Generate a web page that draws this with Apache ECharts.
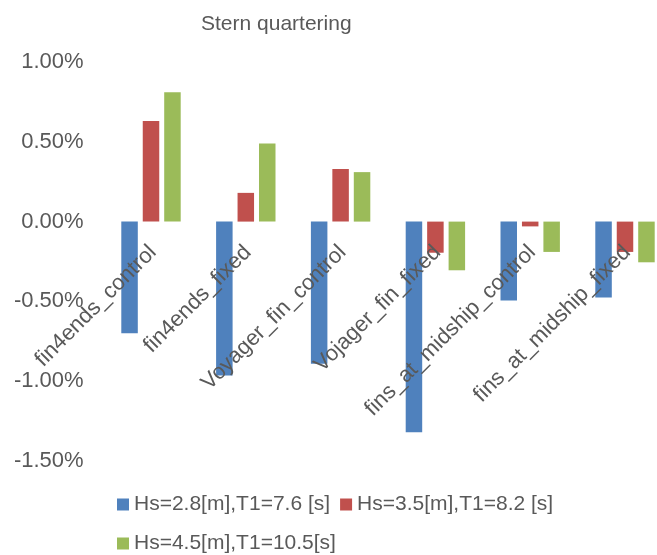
<!DOCTYPE html>
<html>
<head>
<meta charset="utf-8">
<script src="https://cdn.jsdelivr.net/npm/echarts@6/dist/echarts.min.js"></script>
<style>
  html, body { margin: 0; padding: 0; background: #ffffff; }
  #chart { width: 657px; height: 555px; }
</style>
</head>
<body>
<div id="chart"></div>
<script>
// Hull configurations compared in stern-quartering seas
const categories = [
  'fin4ends_control',
  'fin4ends_fixed',
  'Voyager_fin_control',
  'Vojager_fin_fixed',
  'fins_at_midship_control',
  'fins_at_midship_fixed'
];

// Sea-state series names
const seriesNames = [
  'Hs=2.8[m],T1=7.6 [s]',
  'Hs=3.5[m],T1=8.2 [s]',
  'Hs=4.5[m],T1=10.5[s]'
];

// Relative change, in percent
const seaState1 = [-0.70, -0.965, -0.89, -1.32, -0.495, -0.475];
const seaState2 = [0.63, 0.18, 0.33, -0.195, -0.03, -0.19];
const seaState3 = [0.81, 0.49, 0.31, -0.305, -0.19, -0.255];

// Value axis tick settings (percent)
const yMin = -1.5;
const yMax = 1.0;
const yStep = 0.5;

const colors = ['#4F81BD', '#C0504D', '#9BBB59'];
const textColor = '#595959';
const fontFamily = 'Liberation Sans, Arial, sans-serif';

const seriesData = [seaState1, seaState2, seaState3];

const chart = echarts.init(document.getElementById('chart'), null, { renderer: 'canvas' });

chart.setOption({
  animation: false,
  backgroundColor: '#ffffff',
  title: {
    text: 'Stern quartering',
    left: 196,
    top: 9,
    textStyle: { color: textColor, fontSize: 21, fontWeight: 'normal', fontFamily }
  },
  legend: [
    {
      data: [seriesNames[0], seriesNames[1]],
      left: 112,
      top: 489,
      itemWidth: 12,
      itemHeight: 12,
      itemGap: 10,
      icon: 'rect',
      textStyle: { color: textColor, fontSize: 21, fontFamily }
    },
    {
      data: [seriesNames[2]],
      left: 112,
      top: 528,
      itemWidth: 12,
      itemHeight: 12,
      icon: 'rect',
      textStyle: { color: textColor, fontSize: 21, fontFamily }
    }
  ],
  grid: [
    // plot area for the bars (runs past the right edge of the canvas)
    { left: 103.6, top: 62, width: 568.8, bottom: 94, containLabel: false, outerBoundsMode: 'none' },
    // label strip for the category names, hung from the zero line
    { left: 105.6, top: 62, width: 568.8, bottom: 334, containLabel: false, outerBoundsMode: 'none' }
  ],
  xAxis: [
    {
      type: 'category',
      gridIndex: 0,
      data: categories,
      axisLine: { show: false, onZero: true },
      axisTick: { show: false },
      axisLabel: { show: false },
      splitLine: { show: false }
    },
    {
      type: 'category',
      gridIndex: 1,
      data: categories,
      position: 'bottom',
      z: 5,
      axisLine: { show: false },
      axisTick: { show: false },
      splitLine: { show: false },
      axisLabel: {
        rotate: 45,
        margin: 28,
        interval: 0,
        hideOverlap: false,
        color: textColor,
        fontSize: 22,
        fontFamily
      }
    }
  ],
  yAxis: [
    {
      type: 'value',
      gridIndex: 0,
      min: yMin,
      max: yMax,
      interval: yStep,
      axisLine: { show: false },
      axisTick: { show: false },
      splitLine: { show: false },
      axisLabel: {
        margin: 20,
        color: textColor,
        fontSize: 22,
        fontFamily,
        formatter: v => v.toFixed(2) + '%'
      }
    },
    {
      type: 'value',
      gridIndex: 1,
      show: false,
      min: 0,
      max: 1
    }
  ],
  series: seriesNames.map((name, i) => ({
    name,
    type: 'bar',
    xAxisIndex: 0,
    yAxisIndex: 0,
    z: 2,
    data: seriesData[i],
    barWidth: 16.5,
    barGap: '30%',
    itemStyle: { color: colors[i] }
  }))
});
</script>
</body>
</html>
